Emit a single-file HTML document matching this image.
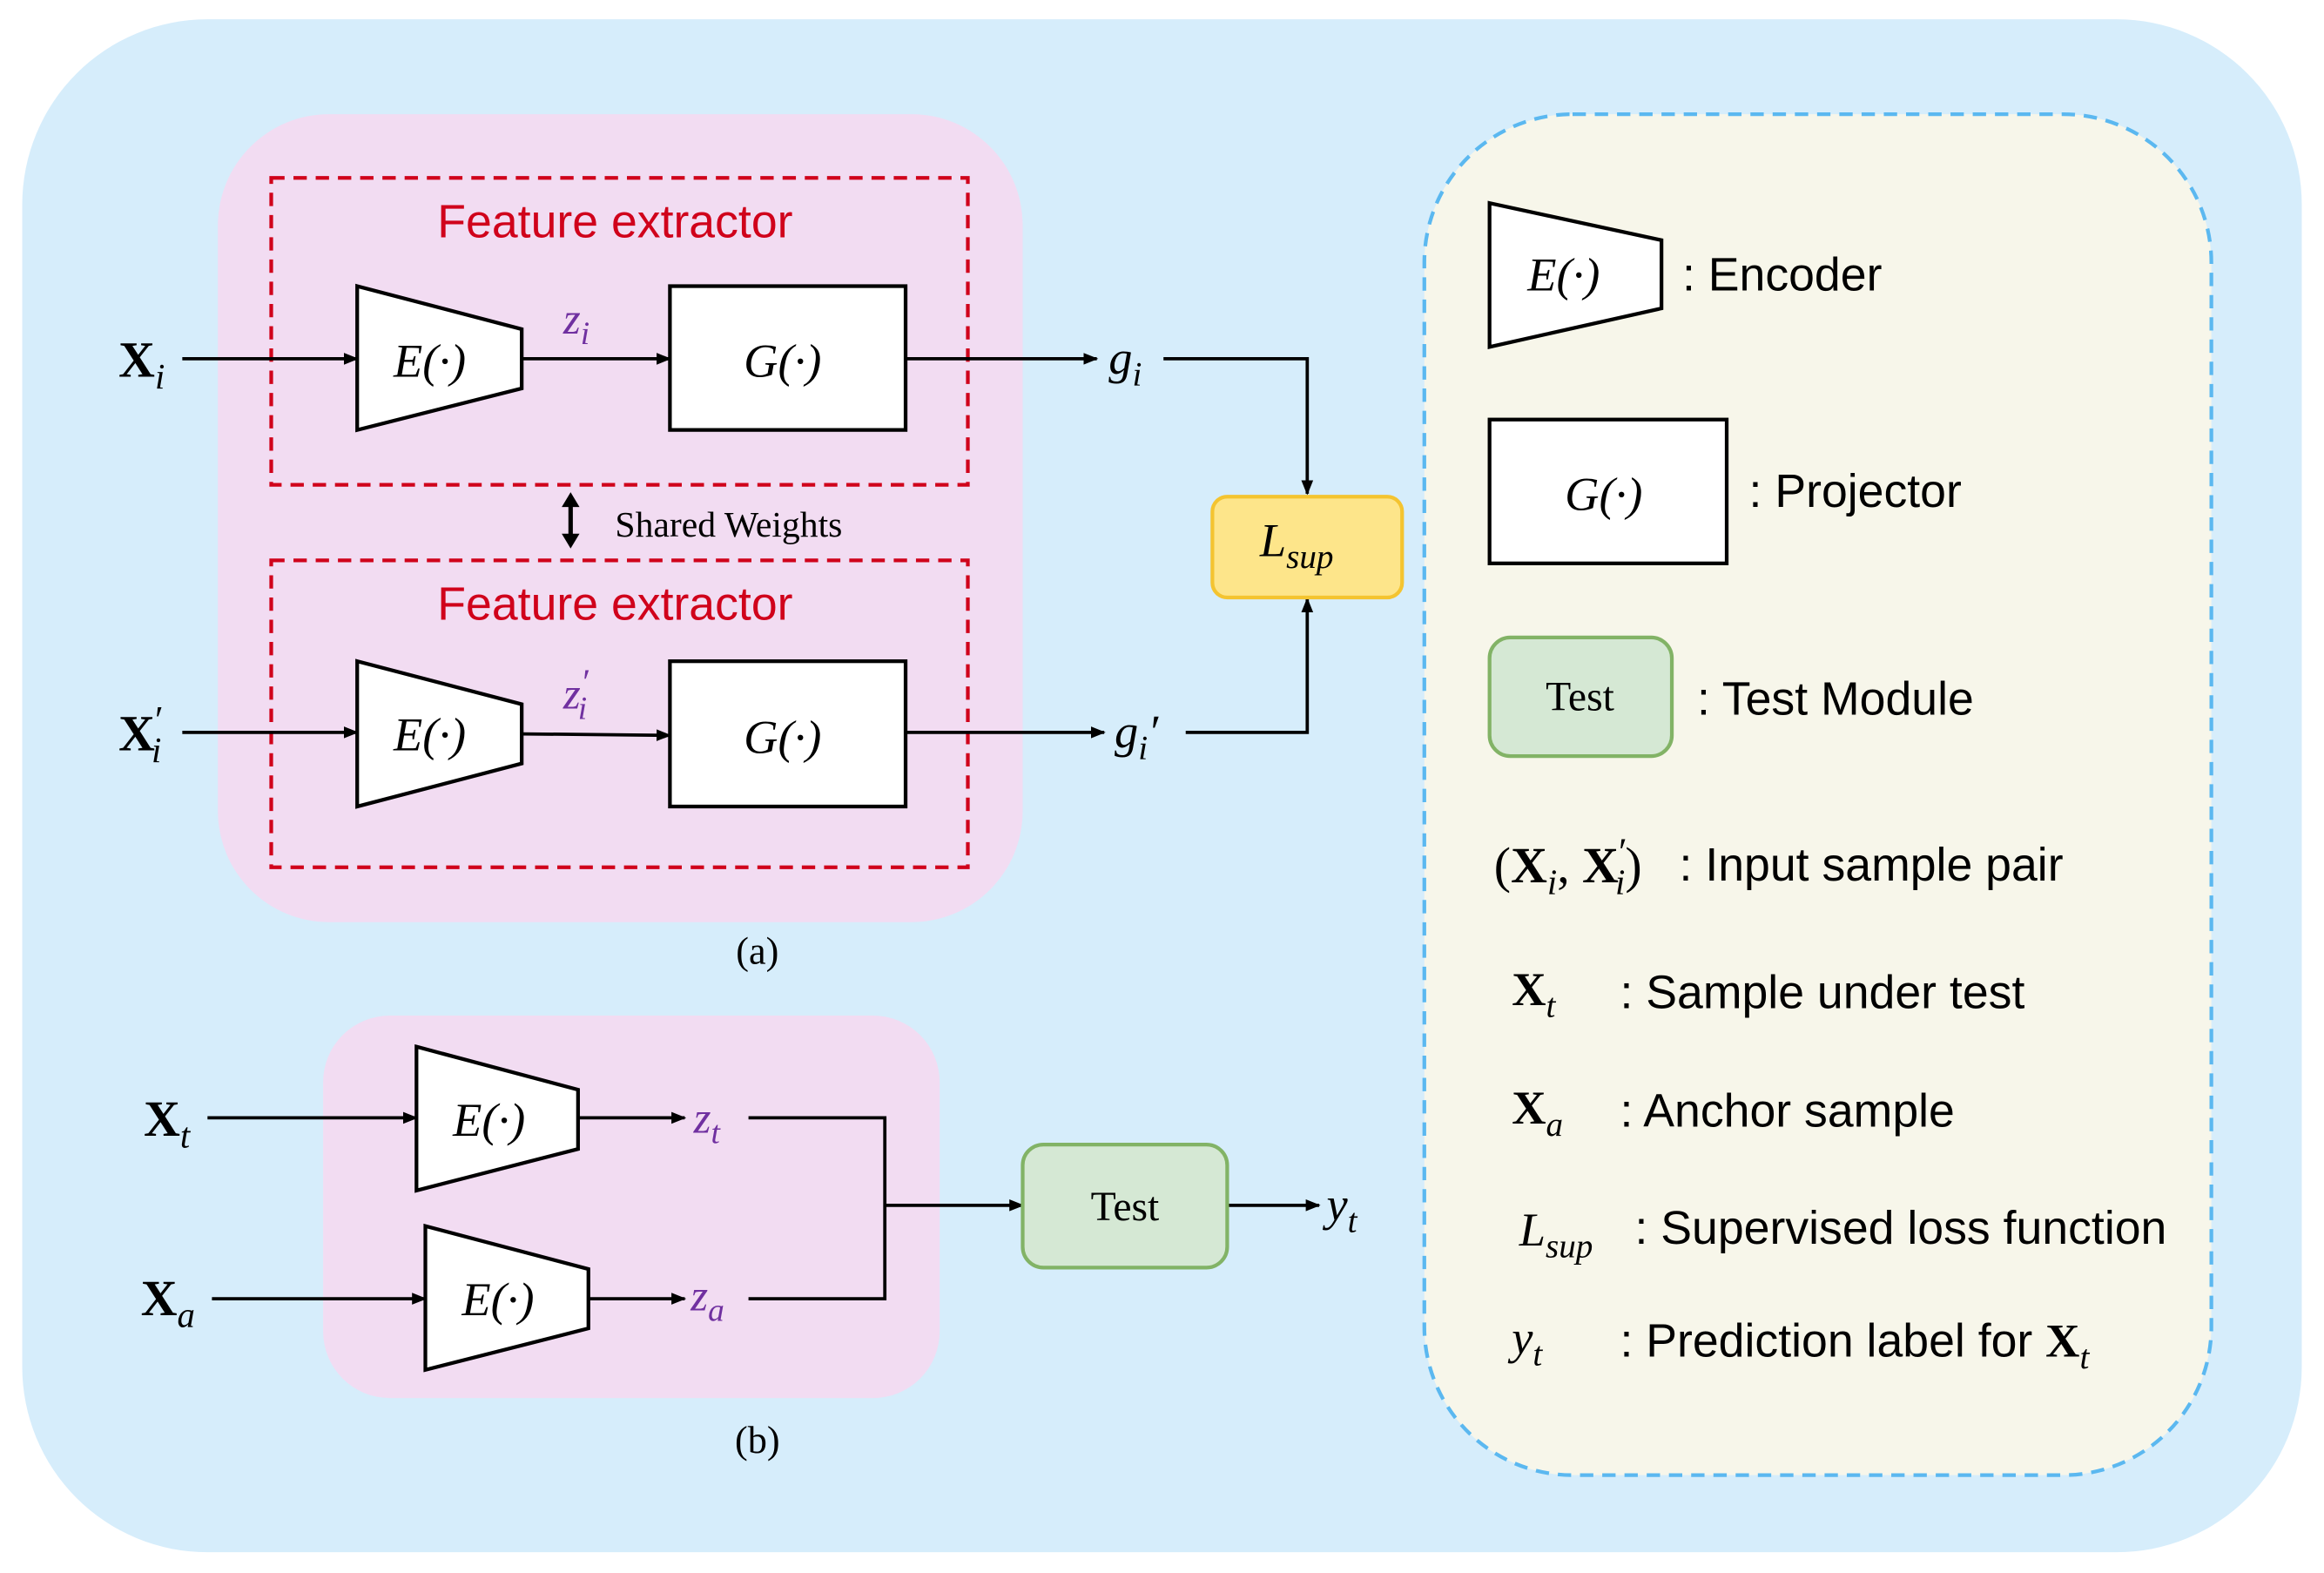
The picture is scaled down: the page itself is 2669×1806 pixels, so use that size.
<!DOCTYPE html>
<html><head><meta charset="utf-8"><style>
html,body{margin:0;padding:0;background:#fff;}
svg{display:block;}
.m{font-family:"Liberation Serif",serif;font-style:italic;}
.b{font-family:"Liberation Serif",serif;font-weight:bold;}
.s{font-family:"Liberation Sans",sans-serif;}
.r{font-family:"Liberation Serif",serif;}
</style></head><body>
<svg width="2669" height="1806" viewBox="0 0 1568 1061" preserveAspectRatio="none" xmlns="http://www.w3.org/2000/svg">
<defs>
<marker id="ar" markerWidth="10" markerHeight="10" refX="9" refY="5" orient="auto" markerUnits="userSpaceOnUse"><path d="M0,1 L10,5 L0,9 z" fill="#000"/></marker>
</defs>
<rect x="15" y="13" width="1538" height="1034" rx="125" fill="#d6edfb"/>
<rect x="147" y="77" width="543" height="545" rx="75" fill="#f2dcf2"/>
<rect x="218" y="685" width="416" height="258" rx="45" fill="#f2dcf2"/>
<rect x="961" y="77" width="531" height="918" rx="100" fill="#f7f6ea" stroke="#5bb8f0" stroke-width="2.5" stroke-dasharray="9,6"/>
<rect x="183" y="120" width="470" height="207" fill="none" stroke="#d0021b" stroke-width="2.5" stroke-dasharray="9,6"/>
<rect x="183" y="378" width="470" height="207" fill="none" stroke="#d0021b" stroke-width="2.5" stroke-dasharray="9,6"/>
<text x="415" y="160" text-anchor="middle" class="s" font-size="31.5" fill="#d0021b">Feature extractor</text>
<text x="415" y="418" text-anchor="middle" class="s" font-size="31.5" fill="#d0021b">Feature extractor</text>
<g fill="#fff" stroke="#000" stroke-width="2.5">
<polygon points="241,193 352,222 352,262 241,290"/>
<rect x="452" y="193" width="159" height="97"/>
<polygon points="241,446 352,475 352,515 241,544"/>
<rect x="452" y="446" width="159" height="98"/>
<polygon points="281,706 390,735 390,775 281,803"/>
<polygon points="287,827 397,856 397,896 287,924"/>
<polygon points="1005,137 1121,162 1121,208 1005,234"/>
<rect x="1005" y="283" width="160" height="97"/>
</g>
<g class="m" font-size="32" text-anchor="middle">
<text x="290" y="254">E(·)</text><text x="528" y="254">G(·)</text>
<text x="290" y="506">E(·)</text><text x="528" y="508">G(·)</text>
<text x="330" y="766">E(·)</text><text x="336" y="887">E(·)</text>
<text x="1055" y="196">E(·)</text><text x="1082" y="344">G(·)</text>
</g>
<g stroke="#000" stroke-width="2.2" fill="none">
<line x1="123" y1="242" x2="241" y2="242" marker-end="url(#ar)"/>
<line x1="352" y1="242" x2="452" y2="242" marker-end="url(#ar)"/>
<line x1="611" y1="242" x2="740" y2="242" marker-end="url(#ar)"/>
<polyline points="785,242 882,242 882,333" marker-end="url(#ar)"/>
<line x1="123" y1="494" x2="241" y2="494" marker-end="url(#ar)"/>
<line x1="352" y1="495" x2="452" y2="496" marker-end="url(#ar)"/>
<line x1="611" y1="494" x2="745" y2="494" marker-end="url(#ar)"/>
<polyline points="800,494 882,494 882,404" marker-end="url(#ar)"/>
<line x1="140" y1="754" x2="281" y2="754" marker-end="url(#ar)"/>
<line x1="390" y1="754" x2="462" y2="754" marker-end="url(#ar)"/>
<polyline points="505,754 597,754 597,876 505,876"/>
<line x1="143" y1="876" x2="287" y2="876" marker-end="url(#ar)"/>
<line x1="397" y1="876" x2="462" y2="876" marker-end="url(#ar)"/>
<line x1="597" y1="813" x2="690" y2="813" marker-end="url(#ar)"/>
<line x1="828" y1="813" x2="890" y2="813" marker-end="url(#ar)"/>
</g>
<line x1="385" y1="338" x2="385" y2="364" stroke="#000" stroke-width="3"/>
<path d="M379,342 L385,332 L391,342 z M379,360 L385,370 L391,360 z" fill="#000"/>
<text x="415" y="362" class="r" font-size="24.5">Shared Weights</text>
<rect x="818" y="335" width="128" height="68" rx="10" fill="#fde58a" stroke="#f4c430" stroke-width="2.5"/>
<text x="850" y="375" class="m" font-size="32">L<tspan font-size="23" dy="8">sup</tspan></text>
<text x="80" y="254" class="b" font-size="34">X<tspan class="m" font-weight="normal" font-size="24" dy="8">i</tspan></text>
<text x="80" y="506" class="b" font-size="34">X<tspan font-weight="normal" font-size="26" dy="-12">′</tspan><tspan class="m" font-weight="normal" font-size="24" dx="-8" dy="20">i</tspan></text>
<text x="380" y="225" class="m" font-size="30" fill="#7030a0">z<tspan font-size="22" dy="7">i</tspan></text>
<text x="380" y="478" class="m" font-size="30" fill="#7030a0">z<tspan font-size="24" dy="-10">′</tspan><tspan font-size="22" dx="-7" dy="17">i</tspan></text>
<text x="748" y="252" class="m" font-size="32">g<tspan font-size="23" dy="8">i</tspan></text>
<text x="752" y="504" class="m" font-size="32">g<tspan font-size="23" dy="8">i</tspan><tspan dy="-8">′</tspan></text>
<text x="511" y="650" text-anchor="middle" class="r" font-size="26">(a)</text>
<text x="511" y="980" text-anchor="middle" class="r" font-size="26">(b)</text>
<text x="97" y="766" class="b" font-size="34">X<tspan class="m" font-weight="normal" font-size="24" dy="8">t</tspan></text>
<text x="95" y="887" class="b" font-size="34">X<tspan class="m" font-weight="normal" font-size="24" dy="8">a</tspan></text>
<text x="468" y="764" class="m" font-size="30" fill="#7030a0">z<tspan font-size="22" dy="7">t</tspan></text>
<text x="466" y="884" class="m" font-size="30" fill="#7030a0">z<tspan font-size="22" dy="7">a</tspan></text>
<rect x="690" y="772" width="138" height="83" rx="14" fill="#d5e8d4" stroke="#82b366" stroke-width="2.5"/>
<text x="759" y="823" text-anchor="middle" class="r" font-size="28">Test</text>
<text x="895" y="823" class="m" font-size="32">y<tspan font-size="23" dy="8">t</tspan></text>
<text x="1135" y="196" class="s" font-size="31.5">: Encoder</text>
<text x="1180" y="342" class="s" font-size="31.5">: Projector</text>
<rect x="1005" y="430" width="123" height="80" rx="14" fill="#d5e8d4" stroke="#82b366" stroke-width="2.5"/>
<text x="1066" y="479" text-anchor="middle" class="r" font-size="28">Test</text>
<text x="1145" y="482" class="s" font-size="31.5">: Test Module</text>
<text x="1008" y="595" class="r" font-size="34">(<tspan class="b">X</tspan><tspan class="m" font-size="24" dy="8">i</tspan><tspan dy="-8">, </tspan><tspan class="b">X</tspan><tspan font-size="26" dy="-12">′</tspan><tspan class="m" font-size="24" dx="-8" dy="20">i</tspan><tspan dy="-8">)</tspan></text>
<text x="1133" y="594" class="s" font-size="31.5">: Input sample pair</text>
<text x="1020" y="678" class="b" font-size="32">X<tspan class="m" font-weight="normal" font-size="23" dy="8">t</tspan></text>
<text x="1093" y="680" class="s" font-size="31.5">: Sample under test</text>
<text x="1020" y="758" class="b" font-size="32">X<tspan class="m" font-weight="normal" font-size="23" dy="8">a</tspan></text>
<text x="1093" y="760" class="s" font-size="31.5">: Anchor sample</text>
<text x="1025" y="840" class="m" font-size="32">L<tspan font-size="23" dy="8">sup</tspan></text>
<text x="1103" y="839" class="s" font-size="31.5">: Supervised loss function</text>
<text x="1020" y="913" class="m" font-size="32">y<tspan font-size="23" dy="8">t</tspan></text>
<text x="1093" y="915" class="s" font-size="31.5">: Prediction label for <tspan class="b" font-size="32">X</tspan><tspan class="m" font-size="23" dy="8">t</tspan></text>
</svg>
</body></html>
